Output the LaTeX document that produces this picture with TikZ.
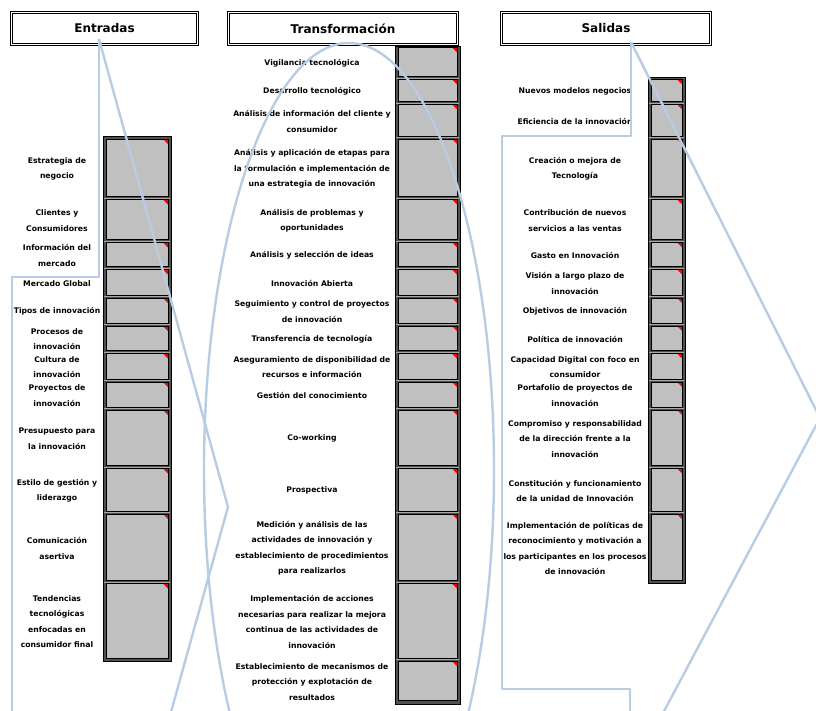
\documentclass[tikz,border=0pt]{standalone}
\usepackage{fontspec}
\setmainfont{DejaVu Sans}
\definecolor{framegray}{HTML}{505050}
\definecolor{cellgray}{HTML}{C0C0C0}
\definecolor{sepgray}{HTML}{A8A8A8}
\definecolor{shapeblue}{HTML}{B8CCE4}
\begin{document}
\begin{tikzpicture}[x=1pt,y=-1pt,
  hdr/.style={draw=black, line width=0.7pt, double=white, double distance=1.8pt, fill=white,
    font=\fontsize{12}{14}\selectfont\bfseries, inner sep=0pt},
  colframe/.style={draw=black, line width=0.6pt, fill=framegray},
  sepline/.style={draw=sepgray, line width=0.8pt},
  cellbox/.style={draw=black, line width=0.6pt, fill=cellgray, inner sep=0pt,
    path picture={\fill[red] ([xshift=-5pt]path picture bounding box.north east) -- (path picture bounding box.north east) -- ([yshift=-5pt]path picture bounding box.north east) -- cycle;}},
  lab/.style={align=center, font=\fontsize{7.7}{15.5}\selectfont\bfseries, inner sep=0pt},
  shapeline/.style={draw=shapeblue, line width=2.4pt, line join=round}
]
\useasboundingbox[fill=white] (0,0) rectangle (816,710);

% headers
\node[hdr, minimum width=186, minimum height=32] (hE) at (104.5,28.5) {Entradas};
\node[hdr, minimum width=229, minimum height=32] (hT) at (343,28.5) {Transformación};
\node[hdr, minimum width=209, minimum height=32] (hS) at (606,28.5) {Salidas};

% left column
\draw[colframe] (103,136) rectangle (171,661);
\foreach \t/\b/\lab [count=\i] in {
  137.5/198/{Estrategia de\\negocio},
  198/241/{Clientes y\\Consumidores},
  241/268/{Información del\\mercado},
  268/296.5/{Mercado Global},
  296.5/324.5/{Tipos de innovación},
  324.5/352/{Procesos de\\innovación},
  352/380.5/{Cultura de\\innovación},
  380.5/408.5/{Proyectos de\\innovación},
  408.5/467/{Presupuesto para\\la innovación},
  467/512.5/{Estilo de gestión y\\liderazgo},
  512.5/582/{Comunicación\\asertiva},
  582/659.5/{Tendencias\\tecnológicas\\enfocadas en\\consumidor final}}{
  \pgfmathsetmacro\m{(\t+\b)/2}
  \pgfmathsetmacro\h{\b-\t-3}
  \pgfmathsetmacro\ml{\m+1}
  \ifnum\i>1 \draw[sepline] (104,\t) -- (170,\t); \fi
  \node[cellbox, minimum width=62, minimum height=\h] (L\i) at (137,\m) {};
  \node[lab] (Lt\i) at (57,\ml) {\lab};
}

% middle column
\draw[colframe] (395,46) rectangle (460,704);
\foreach \t/\b/\lab [count=\i] in {
  46/78/{Vigilancia tecnológica},
  78/103/{Desarrollo tecnológico},
  103/137.5/{Análisis de información del cliente y\\consumidor},
  137.5/198/{Análisis y aplicación de etapas para\\la formulación e implementación de\\una estrategia de innovación},
  198/241/{Análisis de problemas y\\oportunidades},
  241/268/{Análisis y selección de ideas},
  268/296.5/{Innovación Abierta},
  296.5/324.5/{Seguimiento y control de proyectos\\de innovación},
  324.5/352/{Transferencia de tecnología},
  352/380.5/{Aseguramiento de disponibilidad de\\recursos e información},
  380.5/408.5/{Gestión del conocimiento},
  408.5/467/{Co-working},
  467/512.5/{Prospectiva},
  512.5/582/{Medición y análisis de las\\actividades de innovación y\\establecimiento de procedimientos\\para realizarlos},
  582/659.5/{Implementación de acciones\\necesarias para realizar la mejora\\continua de las actividades de\\innovación},
  659.5/702/{Establecimiento de mecanismos de\\protección y explotación de\\resultados}}{
  \pgfmathsetmacro\m{(\t+\b)/2}
  \pgfmathsetmacro\h{\b-\t-3}
  \pgfmathsetmacro\ml{\m+1}
  \ifnum\i>1 \draw[sepline] (396,\t) -- (459,\t); \fi
  \node[cellbox, minimum width=59, minimum height=\h] (M\i) at (427.5,\m) {};
  \node[lab] (Mt\i) at (312,\ml) {\lab};
}

% right column
\draw[colframe] (648,77) rectangle (685,583.5);
\foreach \t/\b/\lab [count=\i] in {
  78/103/{Nuevos modelos negocios},
  103/137.5/{Eficiencia de la innovación},
  137.5/198/{Creación o mejora de\\Tecnología},
  198/241/{Contribución de nuevos\\servicios a las ventas},
  241/268/{Gasto en Innovación},
  268/296.5/{Visión a largo plazo de\\innovación},
  296.5/324.5/{Objetivos de innovación},
  324.5/352/{Política de innovación},
  352/380.5/{Capacidad Digital con foco en\\consumidor},
  380.5/408.5/{Portafolio de proyectos de\\innovación},
  408.5/467/{Compromiso y responsabilidad\\de la dirección frente a la\\innovación},
  467/512.5/{Constitución y funcionamiento\\de la unidad de Innovación},
  512.5/582/{Implementación de políticas de\\reconocimiento y motivación a\\los participantes en los procesos\\de innovación}}{
  \pgfmathsetmacro\m{(\t+\b)/2}
  \pgfmathsetmacro\h{\b-\t-3}
  \pgfmathsetmacro\ml{\m+1}
  \ifnum\i>1 \draw[sepline] (649,\t) -- (684,\t); \fi
  \node[cellbox, minimum width=31, minimum height=\h] (R\i) at (666.5,\m) {};
  \node[lab] (Rt\i) at (575,\ml) {\lab};
}

% overlay shapes
\coordinate (eTip) at (99,39);
\coordinate (sTip) at (631,42);
\begin{scope}
  \clip (0,0) rectangle (816,710);
  \draw[shapeline] (eTip) -- (99,277) -- (12,277) -- (12,730);
  \draw[shapeline] (eTip) -- (228,507) -- (166,730);
  \draw[shapeline] (349,470) ellipse [x radius=145, y radius=427];
  \draw[shapeline] (sTip) -- (631,136) -- (502,136) -- (502,689) -- (630,689) -- (630,730);
  \draw[shapeline] (sTip) -- (820,418) -- (654,730);
\end{scope}
\end{tikzpicture}
\end{document}
